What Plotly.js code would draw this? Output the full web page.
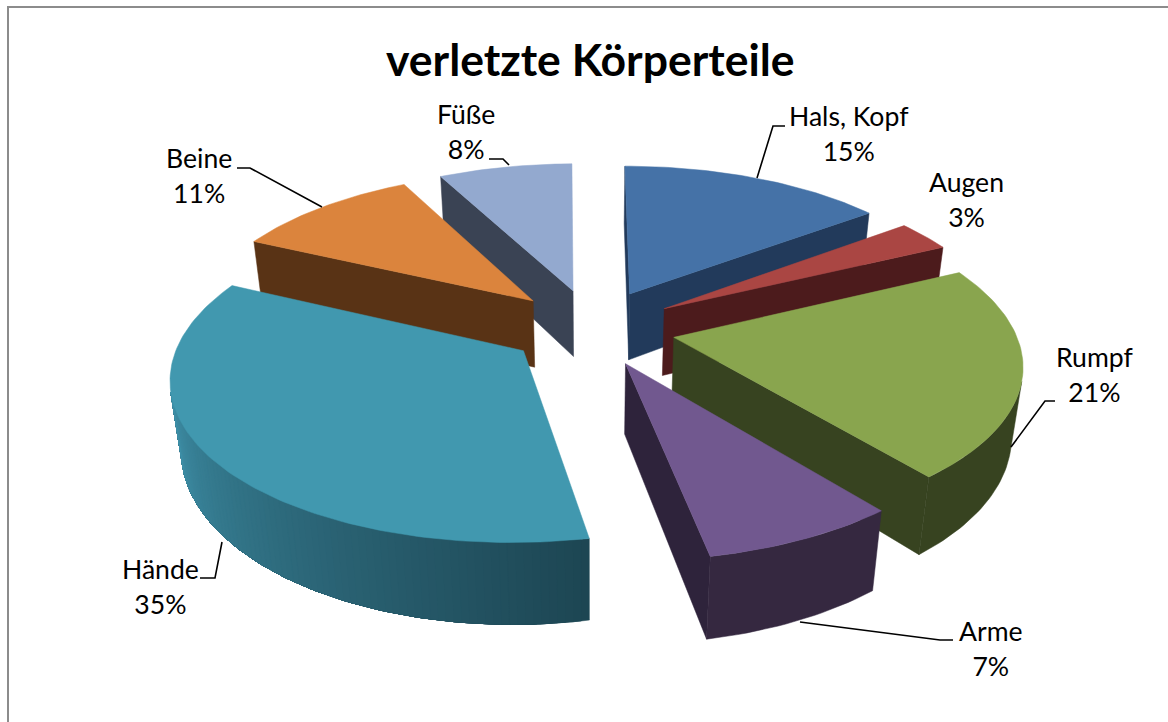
<!DOCTYPE html>
<html><head><meta charset="utf-8">
<script src="https://cdn.plot.ly/plotly-3.0.1.min.js"></script>
<style>html,body{margin:0;padding:0;background:#fff}#c{width:1168px;height:722px}</style></head>
<body><div id="c"></div>
<script>
// Data
const categories = ["Hals, Kopf","Augen","Rumpf","Arme","Hände","Beine","Füße"];
const shares     = [15.3, 3.3, 21.4, 7.4, 34.6, 10.5, 7.5];
const topColors  = ["#4572a7","#aa4643","#89a54e","#71588f","#4198af","#db843d","#93a9cf"];
const wallColors = ["#223a5b","#4c1b1c","#374320","#2e233b","#2e6c7e","#593315","#3a4354"];
const outerColors= ["#223a5b","#4c1b1c","#374320","#352840","#2e6c7e","#593315","#3a4354"];
// Pie geometry: 3D projection of the pie, with a small perspective correction of the drawn angle
const geo = {cx:592, cy:327, R:340, explode:84, tilt:0.458, focal:2300, depth:68, zPersp:0.9};
const warpAt  = [0, 55, 67, 144, 171, 295, 333, 360];
const warpDeg = [0, -2, -2.7, -3, -1.6, 0, -0.5, -0.7];
function warp(t){const d=t*180/Math.PI;
  for(let i=1;i<warpAt.length;i++){ if(d<=warpAt[i]+1e-9){
    const f=(d-warpAt[i-1])/(warpAt[i]-warpAt[i-1]);
    return t+(warpDeg[i-1]+(warpDeg[i]-warpDeg[i-1])*f)*Math.PI/180; } }
  return t;}
function project(X,Y,Z){
  const s=geo.focal/(geo.focal+Y), sx=geo.focal/(geo.focal+Y+geo.zPersp*Z);
  return [geo.cx+X*sx, geo.cy+(-geo.tilt*Y+Z)*s];}
const traces=[];
function poly(pts,color){
  const xs=pts.map(p=>p[0]),ys=pts.map(p=>p[1]);xs.push(xs[0]);ys.push(ys[0]);
  traces.push({type:"scatter",mode:"lines",x:xs,y:ys,fill:"toself",fillcolor:color,
    line:{color:color,width:0.5},hoverinfo:"skip",showlegend:false});
}
function area(p){let a=0;for(let i=0;i<p.length;i++){const q=p[(i+1)%p.length];a+=p[i][0]*q[1]-q[0]*p[i][1];}return a;}
function mix(a,b,t){const h=c=>[1,3,5].map(i=>parseInt(c.substr(i,2),16));const A=h(a),B=h(b);
  return "rgb("+A.map((v,i)=>Math.round(v+(B[i]-v)*t)).join(",")+")";}
const total=shares.reduce((a,b)=>a+b,0);
let cum=0;const slices=shares.map((v,i)=>{const s=cum/total*2*Math.PI;cum+=v;const e=cum/total*2*Math.PI;return {i,s,e};});
const drawOrder=[6,5,0,1,2,3,4];
drawOrder.forEach(k=>{
  const {i,s,e}=slices[k],b=(s+e)/2;
  const ax=geo.explode*Math.sin(b),ay=geo.explode*Math.cos(b);
  const P=(t0,z)=>{const t=warp(t0);return project(ax+geo.R*Math.sin(t),ay+geo.R*Math.cos(t),z);};
  const A=z=>project(ax,ay,z);
  const n=Math.max(6,Math.round((e-s)/0.02));
  const ang=j=>s+(e-s)*j/n;
  const startW=[A(0),A(geo.depth),P(s,geo.depth),P(s,0)];
  const endW=[A(0),P(e,0),P(e,geo.depth),A(geo.depth)];
  if(area(startW)>0)poly(startW,wallColors[i]);
  if(area(endW)>0)poly(endW,wallColors[i]);
  const vis=[];
  for(let j=0;j<n;j++){
    const q=[P(ang(j),0),P(ang(j),geo.depth),P(ang(j+1),geo.depth),P(ang(j+1),0)];
    if(area(q)>0)vis.push(j);
  }
  if(vis.length){
    const a0=vis[0],a1=vis[vis.length-1]+1;
    if(i===4){
      const bands=vis.length;
      for(let m=0;m<bands;m++){
        const j0=a0+m,pts=[];
        for(let j=j0;j<=a1;j++)pts.push(P(ang(j),0));
        for(let j=a1;j>=j0;j--)pts.push(P(ang(j),geo.depth));
        const t=1-m/(bands-1);
        poly(pts,mix("#3f90a8","#1d4653",Math.pow(t,0.85)));
      }
    }else{
      const pts=[];
      for(let j=a0;j<=a1;j++)pts.push(P(ang(j),0));
      for(let j=a1;j>=a0;j--)pts.push(P(ang(j),geo.depth));
      poly(pts,outerColors[i]);
    }
  }
  const top=[A(0)];for(let j=0;j<=n;j++)top.push(P(ang(j),0));
  poly(top,topColors[i]);
});
const labelPos=[[849,133],[966,199.5],[1095,374],[991,648],[160,586],[199,175],[466,131.5]];
const annotations=categories.map((c,i)=>({xref:"x",yref:"y",x:labelPos[i][0],y:labelPos[i][1],
  text:c+"<br>"+Math.round(shares[i])+"%",showarrow:false,align:"center",
  font:{family:"Lato, sans-serif",size:26.6,color:"#000"}}));
annotations.push({xref:"x",yref:"y",x:590,y:58,text:"<b>verletzte Körperteile</b>",showarrow:false,
  font:{family:"Lato, sans-serif",size:44.5,color:"#000"}});
const leaders=[
 "M785,126 L773,126 L757,178",
 "M1055,401 L1045,401 L1011,447",
 "M953,640 L940,640 L800,622",
 "M200,578 L215,578 L222,542",
 "M237,168 L250,168 L322,207",
 "M489,159 L503,159 L509,165"];
const shapes=leaders.map(p=>({type:"path",xref:"x",yref:"y",path:p,line:{color:"#000",width:1.6}}));
shapes.push({type:"path",xref:"x",yref:"y",path:"M8,722 L8,7 L1168,7",line:{color:"#8c8c8c",width:2}});
Plotly.newPlot("c",traces,{width:1168,height:722,margin:{l:0,r:0,t:0,b:0},
 paper_bgcolor:"#fff",plot_bgcolor:"#fff",showlegend:false,
 xaxis:{range:[0,1168],visible:false,fixedrange:true},
 yaxis:{range:[722,0],visible:false,fixedrange:true},
 annotations,shapes},{displayModeBar:false,staticPlot:true});
</script></body></html>
